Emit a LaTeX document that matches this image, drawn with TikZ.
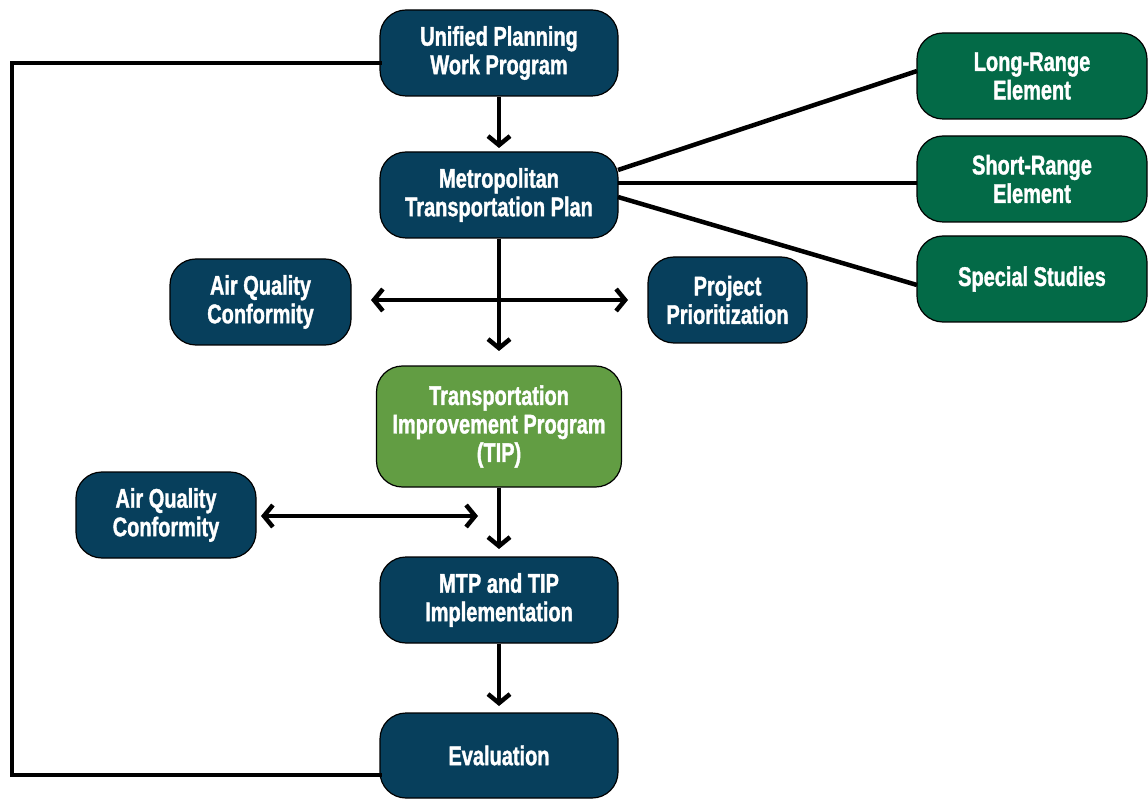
\documentclass[tikz,border=0pt]{standalone}
\usepackage{fontspec}
\setmainfont{Liberation Sans}[BoldFont={* Bold}]
\newfontfamily\boxfont{Liberation Sans Bold}[FakeStretch=0.74,FakeBold=1.3]
\usetikzlibrary{arrows.meta}
\definecolor{navy}{HTML}{073F5C}
\definecolor{dgreen}{HTML}{036A47}
\definecolor{lgreen}{HTML}{629D43}
\begin{document}
\begin{tikzpicture}[x=1pt,y=-1pt,
  box/.style={draw=black, line width=1.2pt, rounded corners=26pt, fill=navy,
    text=white, align=center, inner sep=0pt,
    font=\boxfont\fontsize{27}{28.5}\selectfont},
  conn/.style={line width=4.5pt},
  arr/.style={conn, -{Straight Barb[length=9pt,width=22pt,line width=4.5pt]}},
  darr/.style={conn, {Straight Barb[length=9pt,width=22pt,line width=4.5pt]}-{Straight Barb[length=9pt,width=22pt,line width=4.5pt]}}]
\useasboundingbox (0,0) rectangle (1148,799);
% nodes
\node[box, minimum width=238pt, minimum height=86pt] (upwp) at (499,53) {Unified Planning\\Work Program};
\node[box, minimum width=238pt, minimum height=86pt] (mtp) at (499,195) {Metropolitan\\Transportation Plan};
\node[box, minimum width=181pt, minimum height=86pt] (aq1) at (260.5,302) {Air Quality\\Conformity};
\node[box, minimum width=159pt, minimum height=86pt] (pp) at (727.5,300) {Project\\Prioritization};
\node[box, fill=lgreen, minimum width=245pt, minimum height=121pt] (tip) at (499,426.5) {Transportation\\Improvement Program\\(TIP)};
\node[box, minimum width=180pt, minimum height=86pt] (aq2) at (166,515) {Air Quality\\Conformity};
\node[box, minimum width=238pt, minimum height=86pt] (impl) at (499,600) {MTP and TIP\\Implementation};
\node[box, minimum width=238pt, minimum height=85pt] (eval) at (499,755.5) {Evaluation};
\node[box, fill=dgreen, minimum width=230pt, minimum height=86pt] (lr) at (1032,76) {Long-Range\\Element};
\node[box, fill=dgreen, minimum width=230pt, minimum height=86pt] (sr) at (1032,179) {Short-Range\\Element};
\node[box, fill=dgreen, minimum width=230pt, minimum height=86pt] (ss) at (1032,279) {Special Studies};
% coordinates
\coordinate (t1) at (499,148);
\coordinate (t2) at (499,351);
\coordinate (hl) at (371,300);
\coordinate (hr) at (628,300);
\coordinate (t3) at (499,549);
\coordinate (hl2) at (261,516);
\coordinate (hr2) at (478,516);
\coordinate (t4) at (499,706);
\coordinate (f1) at (380,63);
\coordinate (f2) at (12,63);
\coordinate (f3) at (12,775);
\coordinate (f4) at (380,775);
\coordinate (m1) at (618,170);
\coordinate (m2) at (618,183);
\coordinate (m3) at (618,197);
\coordinate (e1) at (917,71);
\coordinate (e2) at (917,183);
\coordinate (e3) at (917,285);
% connectors
\draw[arr] (upwp.south) -- (t1);
\draw[arr] (mtp.south) -- (t2);
\draw[darr] (hl) -- (hr);
\draw[arr] (tip.south) -- (t3);
\draw[darr] (hl2) -- (hr2);
\draw[arr] (impl.south) -- (t4);
\draw[conn, line cap=rect] (f1) -- (f2) -- (f3) -- (f4);
\draw[conn] (m1) -- (e1);
\draw[conn] (m2) -- (e2);
\draw[conn] (m3) -- (e3);
\end{tikzpicture}
\end{document}
